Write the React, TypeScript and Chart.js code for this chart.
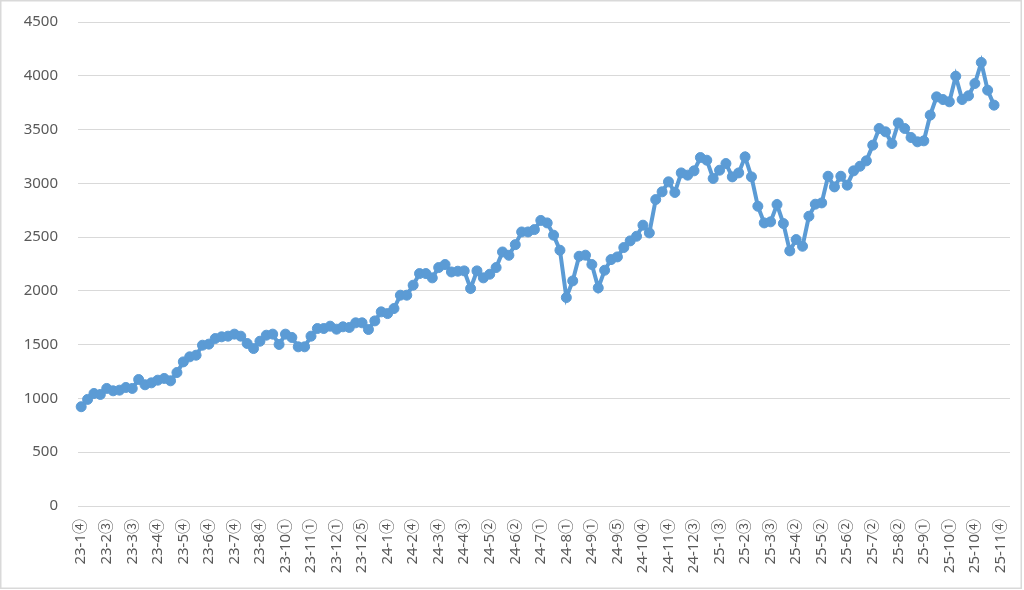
import React, { useEffect, useRef } from "react";
import { Chart, registerables } from "chart.js";

Chart.register(...registerables);

// Tick labels shown every 4th weekly category
const tickLabels: string[] = [
  "23-1④", "23-2③", "23-3③", "23-4④", "23-5④", "23-6④", "23-7④", "23-8④",
  "23-10①", "23-11①", "23-12①", "23-12⑤", "24-1④", "24-2④", "24-3④", "24-4③",
  "24-5②", "24-6②", "24-7①", "24-8①", "24-9①", "24-9⑤", "24-10④", "24-11④",
  "24-12③", "25-1③", "25-2③", "25-3③", "25-4②", "25-5②", "25-6②", "25-7②",
  "25-8②", "25-9①", "25-10①", "25-10④", "25-11④",
];

const labelEvery = 4;
const categoryCount = 146;

// Weekly values
const values2023: number[] = [
  923, 991, 1046, 1037, 1093, 1071, 1077, 1102, 1093, 1176,
  1127, 1145, 1170, 1186, 1164, 1241, 1340, 1387, 1402, 1495,
  1505, 1557, 1573, 1579, 1598, 1579, 1511, 1464, 1532, 1588,
  1598, 1502, 1598, 1567, 1480, 1480, 1579, 1650, 1650, 1672,
  1644, 1666, 1660, 1703, 1703, 1641, 1721, 1805,
];
const values2024: number[] = [
  1789, 1836, 1960, 1960, 2053, 2161, 2161, 2121, 2217, 2245,
  2176, 2183, 2186, 2022, 2186, 2121, 2155, 2217, 2362, 2331,
  2430, 2548, 2548, 2570, 2655, 2632, 2518, 2378, 1938, 2093,
  2322, 2332, 2245, 2028, 2192, 2291, 2316, 2403, 2465, 2508,
  2611, 2539, 2849, 2921, 3014, 2915, 3097, 3076, 3116, 3240,
  3215,
];
const values2025: number[] = [
  3045, 3122, 3184, 3060, 3097, 3246, 3060, 2787, 2632, 2642,
  2803, 2626, 2372, 2477, 2415, 2694, 2806, 2818, 3066, 2967,
  3066, 2983, 3116, 3159, 3209, 3355, 3510, 3479, 3370, 3562,
  3510, 3426, 3386, 3395, 3634, 3804, 3779, 3758, 3996, 3779,
  3814, 3928, 4124, 3866, 3727,
];

const yTicksMax = 4500;
const yTicksStep = 500;

const LINE_COLOR = "#5B9BD5";
const TEXT_COLOR = "#595959";
const GRID_COLOR = "#D9D9D9";
const FONT = "'Noto Sans', 'Open Sans', 'Noto Sans CJK JP', sans-serif";

const frame = {
  id: "frame",
  beforeDraw(chart: any) {
    const { ctx, width, height } = chart;
    ctx.save();
    ctx.fillStyle = "#ffffff";
    ctx.fillRect(0, 0, width, height);
    ctx.strokeStyle = GRID_COLOR;
    ctx.lineWidth = 1.5;
    ctx.strokeRect(0.75, 0.75, width - 3.5, height - 2.5);
    ctx.restore();
  },
};

export default function App() {
  const ref = useRef<HTMLCanvasElement | null>(null);

  useEffect(() => {
    if (!ref.current) return;
    const values = [...values2023, ...values2024, ...values2025];
    const categories = Array.from({ length: categoryCount }, (_, i) =>
      i % labelEvery === 0 && tickLabels[i / labelEvery] ? tickLabels[i / labelEvery] : ""
    );
    const data = categories.map((_, i) => (i < values.length ? values[i] : null));

    const chart = new Chart(ref.current, {
      type: "line",
      data: {
        labels: categories,
        datasets: [
          {
            data,
            borderColor: LINE_COLOR,
            backgroundColor: LINE_COLOR,
            borderWidth: 4,
            pointRadius: 5,
            pointBorderWidth: 1,
            pointBackgroundColor: LINE_COLOR,
            pointBorderColor: LINE_COLOR,
            tension: 0,
            spanGaps: false,
          },
        ],
      },
      options: {
        responsive: false,
        animation: false,
        devicePixelRatio: 1,
        layout: { padding: { left: 0, top: 22, right: 14, bottom: 0 } },
        plugins: {
          legend: { display: false },
          tooltip: { enabled: false },
          title: { display: false },
        },
        scales: {
          x: {
            type: "category",
            offset: true,
            grid: { display: false, drawTicks: false },
            border: { display: false },
            ticks: {
              autoSkip: false,
              maxRotation: 90,
              minRotation: 90,
              padding: 13,
              color: TEXT_COLOR,
              font: { family: FONT, size: 15 },
              callback: (_v: any, i: number) => categories[i],
            },
            afterFit: (scale: any) => {
              scale.height = 84;
              scale.paddingLeft = 0;
              scale.paddingRight = 0;
            },
          },
          y: {
            min: 0,
            max: yTicksMax,
            grid: { color: GRID_COLOR, lineWidth: 1, drawTicks: false },
            border: { display: false },
            ticks: {
              stepSize: yTicksStep,
              padding: 20,
              color: TEXT_COLOR,
              font: { family: FONT, size: 15 },
              callback: (v: any) => String(v),
            },
            afterFit: (scale: any) => {
              scale.width = 78;
              scale.paddingTop = 0;
              scale.paddingBottom = 0;
            },
          },
        },
      },
      plugins: [frame],
    });
    return () => chart.destroy();
  }, []);

  return (
    <div style={{ position: "fixed", left: 0, top: 0, width: 1024, height: 590, background: "#fff" }}>
      <canvas ref={ref} width={1024} height={590} style={{ display: "block" }} />
    </div>
  );
}
